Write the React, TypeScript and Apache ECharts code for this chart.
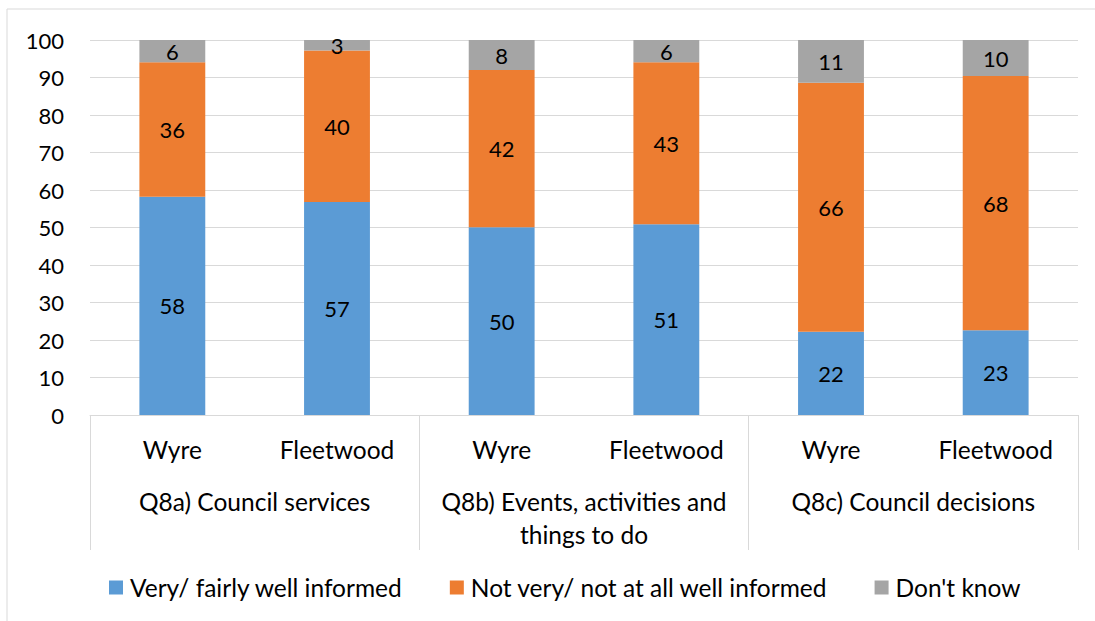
import React, { useEffect, useRef } from "react";
import * as echarts from "echarts";

const areas = ["Wyre", "Fleetwood", "Wyre", "Fleetwood", "Wyre", "Fleetwood"];
const questions = [
  "Q8a) Council services",
  "Q8b) Events, activities and\nthings to do",
  "Q8c) Council decisions",
];
const seriesNames = [
  "Very/ fairly well informed",
  "Not very/ not at all well informed",
  "Don't know",
];
const wellInformed = [58.2, 56.8, 50.1, 50.9, 22.2, 22.6];
const notInformed = [35.9, 40.4, 41.9, 43.2, 66.4, 67.8];
const dontKnow = [5.9, 2.8, 8.0, 5.9, 11.4, 9.6];
const colors = ["#5B9BD5", "#ED7D31", "#A5A5A5"];

const FONT = "Lato";
const TEXT_SIZE = 24.5;
const NUM_SIZE = 22;

export default function App() {
  const ref = useRef<HTMLDivElement>(null);
  useEffect(() => {
    const chart = echarts.init(ref.current!, null, { renderer: "svg" });
    const values = [wellInformed, notInformed, dontKnow];
    chart.setOption({
      animation: false,
      textStyle: { fontFamily: FONT },
      graphic: [
        {
          type: "rect",
          shape: { x: 7, y: 9, width: 1200, height: 800 },
          style: { fill: "none", stroke: "#d9d9d9", lineWidth: 1 },
          silent: true,
        },
      ],
      grid: { left: 90, right: 17, top: 40, bottom: 206, containLabel: false },
      legend: {
        left: 104,
        bottom: 16,
        icon: "rect",
        itemWidth: 14,
        itemHeight: 14,
        itemGap: 47,
        textStyle: { fontFamily: FONT, fontSize: TEXT_SIZE, color: "#000", padding: [0, 0, 0, 2] },
        data: seriesNames,
      },
      xAxis: [
        {
          type: "category",
          data: areas,
          position: "bottom",
          axisLine: { show: true, lineStyle: { color: "#d9d9d9" } },
          axisTick: { show: false },
          splitLine: { show: false },
          axisLabel: { margin: 22, fontFamily: FONT, fontSize: TEXT_SIZE, color: "#000", interval: 0 },
        },
        {
          type: "category",
          data: questions,
          position: "bottom",
          axisLine: { show: false },
          axisTick: { show: true, length: 135, lineStyle: { color: "#d9d9d9" } },
          splitLine: { show: false },
          axisLabel: {
            margin: 70,
            fontFamily: FONT,
            fontSize: TEXT_SIZE,
            color: "#000",
            lineHeight: 33,
            interval: 0,
          },
        },
      ],
      yAxis: {
        type: "value",
        min: 0,
        max: 100,
        interval: 10,
        axisLine: { show: false },
        axisTick: { show: false },
        splitLine: { lineStyle: { color: "#d9d9d9" } },
        axisLabel: { margin: 26, fontFamily: FONT, fontSize: NUM_SIZE, color: "#000" },
      },
      series: seriesNames.map((name, i) => ({
        name,
        type: "bar",
        stack: "total",
        xAxisIndex: 0,
        barWidth: "40%",
        data: values[i],
        itemStyle: { color: colors[i] },
        label: {
          show: true,
          position: "inside",
          color: "#000",
          fontFamily: FONT,
          fontSize: NUM_SIZE,
          formatter: (p: any) => String(Math.round(p.value)),
        },
      })),
    });
    return () => chart.dispose();
  }, []);
  return (
    <div
      ref={ref}
      style={{ position: "fixed", left: 0, top: 0, width: 1095, height: 621, background: "#fff" }}
    />
  );
}
